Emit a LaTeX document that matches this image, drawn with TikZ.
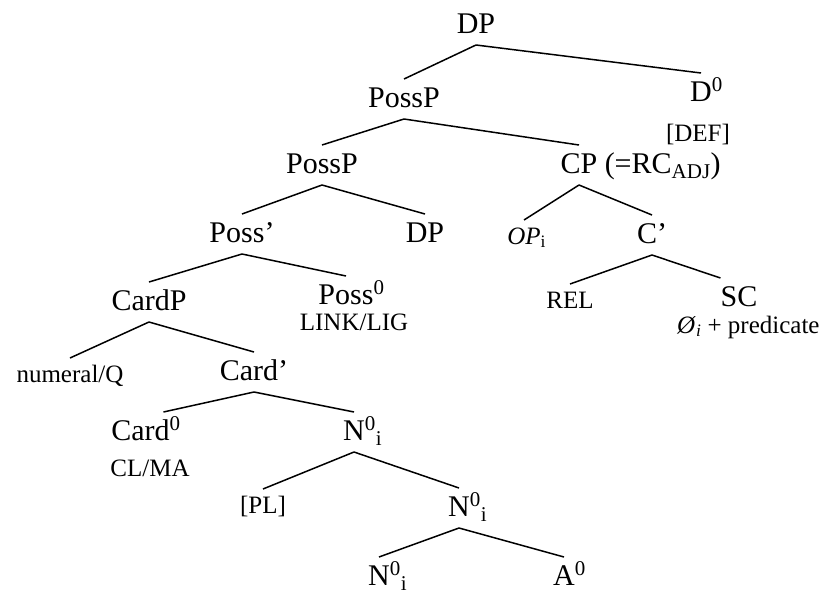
\documentclass[tikz,border=0pt]{standalone}
\usepackage{fontspec}
\setmainfont{Liberation Serif}
\usetikzlibrary{positioning,calc}

\begin{document}
\begin{tikzpicture}[x=1pt,y=-1pt,
    cat/.style={anchor=base,inner sep=0pt,outer ysep=7pt,text height=21pt,text depth=5pt,font=\fontsize{30}{36}\selectfont},
    leaf/.style={anchor=base,inner sep=0pt,outer ysep=7pt,text height=17pt,text depth=5pt,font=\fontsize{25}{30}\selectfont},
    feat/.style={anchor=base,inner sep=0pt,font=\fontsize{25}{30}\selectfont},
    branch/.style={line width=1.5pt}]
    \useasboundingbox (0,0) rectangle (825,595);

    \node[cat] (dp) at (476,33) {DP};
    \node[cat] (possp) at (404,107) {PossP};
    \node[cat] (d) at (701,101) {D\rlap{\textsuperscript{0}}};
    \node[feat] (def) at (698,141) {[DEF]};
    \node[cat] (possq) at (322,173) {PossP};
    \node[cat] (cp) at (579,173) {CP};
    \node[cat,anchor=base west,right=7pt of cp] (rc) {(=RC\textsubscript{ADJ})};
    \node[cat] (possbar) at (242,242) {Poss’};
    \node[cat] (dpb) at (425,242) {DP};
    \node[leaf] (op) at (524,244) {\textit{OP}\rlap{\textsubscript{i}}};
    \node[cat] (cbar) at (652,243) {C’};
    \node[cat] (cardp) at (149,310) {CardP};
    \node[cat] (possz) at (346,304) {Poss\rlap{\textsuperscript{0}}};
    \node[feat] (link) at (354,330) {LINK/LIG};
    \node[leaf] (rel) at (570,308) {REL};
    \node[cat] (sc) at (739,306) {SC};
    \node[feat,anchor=base west] (pred) at (677,333) {\textit{Ø}\textsubscript{\textit{i}} + predicate};
    \node[leaf] (numq) at (70,382) {numeral/Q};
    \node[cat] (cardbar) at (254,380) {Card’};
    \node[cat] (cardz) at (146,440) {Card\textsuperscript{0}};
    \node[feat] (clma) at (150,476) {CL/MA};
    \node[cat] (nz) at (354,440) {N\rlap{\textsuperscript{0}\textsubscript{i}}};
    \node[leaf] (pl) at (263,513) {[PL]};
    \node[cat] (ny) at (459,516) {N\rlap{\textsuperscript{0}\textsubscript{i}}};
    \node[cat] (nx) at (379,585) {N\rlap{\textsuperscript{0}\textsubscript{i}}};
    \node[cat] (az) at (564,585) {A\rlap{\textsuperscript{0}}};

    \foreach \a/\b in {dp/possp,dp/d,possp/possq,possp/cp,possq/possbar,possq/dpb,
      cp/op,cp/cbar,possbar/cardp,possbar/possz,cbar/rel,cardp/numq,cardp/cardbar,
      cardbar/nz,nz/pl,nz/ny,ny/nx,ny/az}
      \draw[branch] (\a.south) -- (\b.north);
    \draw[branch] (cbar.south) -- (sc.north west);
    \draw[branch] (cardbar.south) -- ($(cardz.north)!.5!(cardz.north east)$);
  \end{tikzpicture}
\end{document}
